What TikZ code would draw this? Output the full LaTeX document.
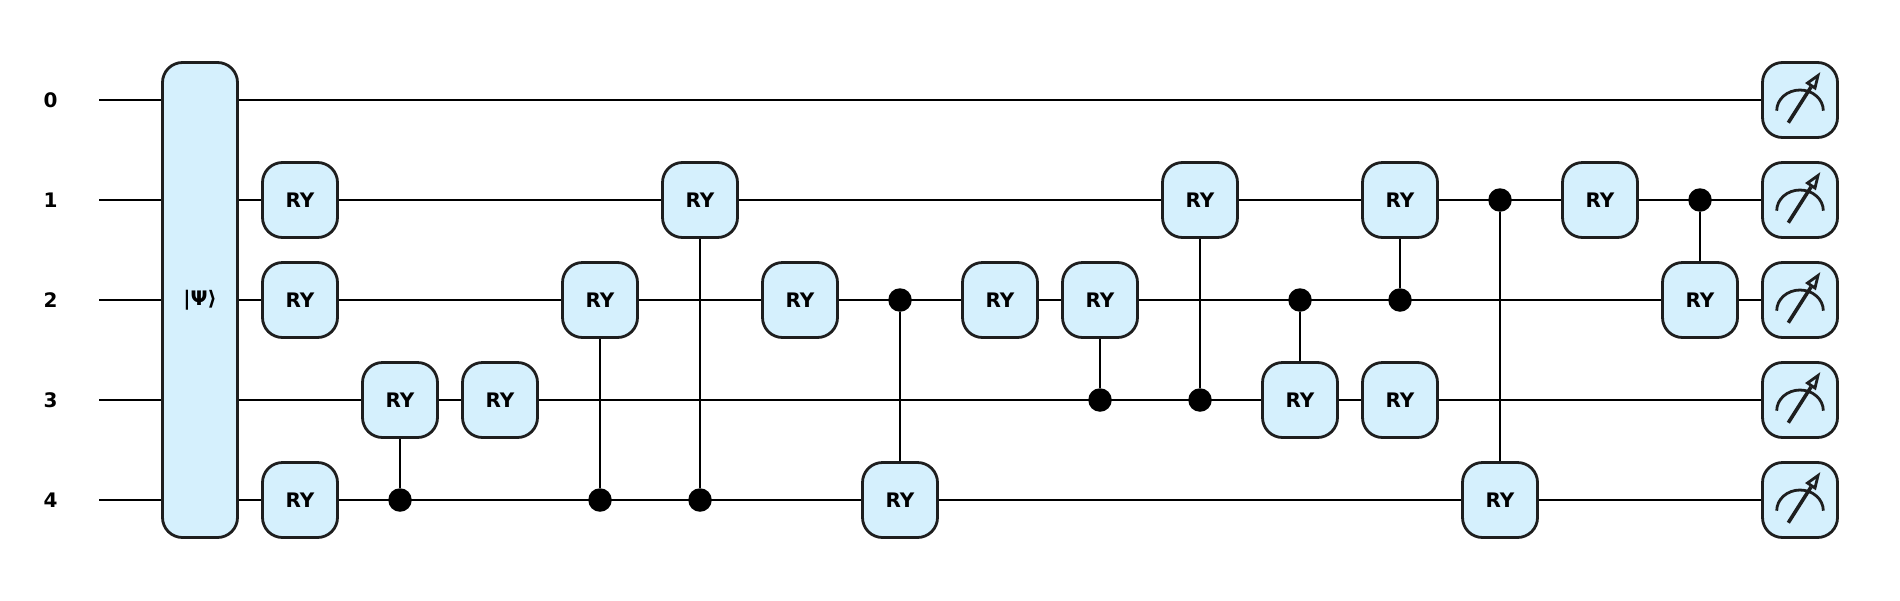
\documentclass[tikz,border=0pt]{standalone}
\usepackage{fontspec}
\setmainfont{DejaVu Sans}
\usetikzlibrary{backgrounds}
\definecolor{gatefill}{HTML}{D5F0FD}
\definecolor{gateline}{HTML}{1E1E1E}
\tikzset{
  x=1pt,y=-1pt,
  wire/.style={line width=2pt,black},
  gatebox/.style={draw=gateline,fill=gatefill,line width=2.8pt,rounded corners=20pt,minimum width=75pt,minimum height=75pt,inner sep=0pt,font=\bfseries\fontsize{20}{22}\selectfont,text=black},
  ctrl/.style={circle,fill=black,minimum size=23.5pt,inner sep=0pt},
  qlabel/.style={font=\bfseries\fontsize{20}{22}\selectfont,text=black,inner sep=0pt},
  meterline/.style={draw=gateline,line width=2.8pt},
}
\newcommand{\RY}[3]{\node[gatebox] (#1) at (#2,#3) {RY};}
\newcommand{\CT}[3]{\node[ctrl] (#1) at (#2,#3) {};}
\newcommand{\METER}[2]{%
  \node[gatebox] (#1) at (1800,#2) {};
  \draw[meterline] (1776.7,#2+10.7) arc[start angle=180,end angle=360,x radius=23.3,y radius=20.7];
  \draw[meterline,line width=3.6pt] (1788.3,#2+22.7) -- (1811,#2-13);
  \draw[meterline,line join=miter] (1818,#2-24.5) -- (1807.5,#2-17) -- (1815,#2-12) -- cycle;
}
\begin{document}
\begin{tikzpicture}
\useasboundingbox (0,0) rectangle (1900,600);
\foreach \i/\y in {0/100,1/200,2/300,3/400,4/500}{
  \node[qlabel] (q\i) at (50.5,\y) {\i};
  \coordinate (w\i) at (99,\y);
}
\node[gatebox,minimum height=475pt] (psi) at (200,300) {|Ψ⟩};
\RY{a1}{300}{200}
\RY{a2}{300}{300}
\RY{a4}{300}{500}
\RY{b}{400}{400}
\CT{bc}{400}{500}
\RY{c}{500}{400}
\RY{d}{600}{300}
\CT{dc}{600}{500}
\RY{e}{700}{200}
\CT{ec}{700}{500}
\RY{f}{800}{300}
\RY{g}{900}{500}
\CT{gc}{900}{300}
\RY{h}{1000}{300}
\RY{i}{1100}{300}
\CT{ic}{1100}{400}
\RY{j}{1200}{200}
\CT{jc}{1200}{400}
\RY{k}{1300}{400}
\CT{kc}{1300}{300}
\RY{l}{1400}{200}
\CT{lc}{1400}{300}
\RY{m}{1400}{400}
\RY{n}{1500}{500}
\CT{nc}{1500}{200}
\RY{o}{1600}{200}
\RY{p}{1700}{300}
\CT{pc}{1700}{200}
\METER{m0}{100}
\METER{m1}{200}
\METER{m2}{300}
\METER{m3}{400}
\METER{m4}{500}
\begin{scope}[on background layer]
\foreach \i in {0,...,4}{\draw[wire] (w\i) -- (m\i);}
\draw[wire] (b) -- (bc);
\draw[wire] (d) -- (dc);
\draw[wire] (e) -- (ec);
\draw[wire] (g) -- (gc);
\draw[wire] (i) -- (ic);
\draw[wire] (j) -- (jc);
\draw[wire] (k) -- (kc);
\draw[wire] (l) -- (lc);
\draw[wire] (n) -- (nc);
\draw[wire] (p) -- (pc);
\end{scope}
\end{tikzpicture}
\end{document}
